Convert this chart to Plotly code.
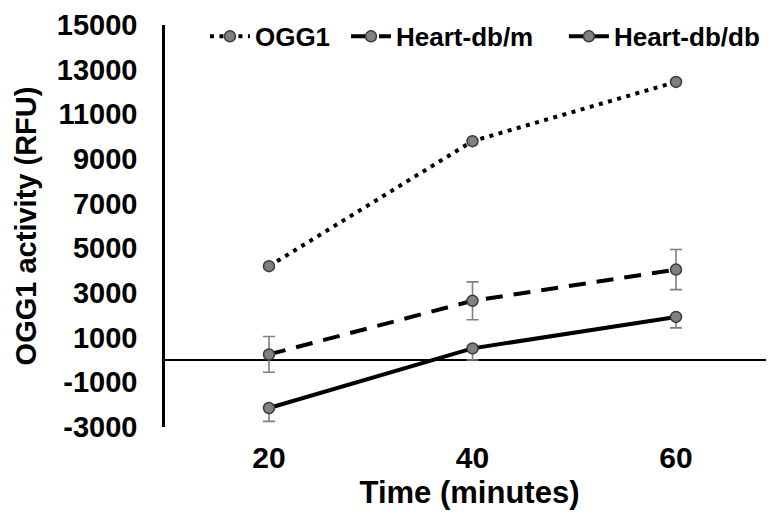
import plotly.graph_objects as go

time_min = [20, 40, 60]
ogg1 = [4200, 9800, 12450]
db_m = [250, 2650, 4050]
db_m_err = [800, 850, 900]
db_db = [-2150, 520, 1930]
db_db_err_minus = [600, 520, 490]
y_ticks = [-3000, -1000, 1000, 3000, 5000, 7000, 9000, 11000, 13000, 15000]

marker = dict(size=11, color="#808080", line=dict(color="#3a3a3a", width=1.5))
err_style = dict(color="#7f7f7f", thickness=1.6, width=6)
font_b = dict(family="Arial", color="black", weight="bold")

fig = go.Figure()
fig.add_trace(go.Scatter(
    x=time_min, y=ogg1, name="OGG1", mode="lines+markers", legend="legend",
    line=dict(color="black", width=4, dash="4px,5.5px"), marker=marker))
fig.add_trace(go.Scatter(
    x=time_min, y=db_m, name="Heart-db/m", mode="lines+markers", legend="legend2",
    line=dict(color="black", width=4, dash="17px,11px"), marker=marker,
    error_y=dict(type="data", array=db_m_err, visible=True, **err_style)))
fig.add_trace(go.Scatter(
    x=time_min, y=db_db, name="Heart-db/db", mode="lines+markers", legend="legend3",
    line=dict(color="black", width=4), marker=marker,
    error_y=dict(type="data", symmetric=False, array=[0, 0, 0],
                 arrayminus=db_db_err_minus, visible=True, **err_style)))

def leg(x):
    return dict(orientation="h", x=x, y=1.03, xanchor="left", yanchor="top",
                font=dict(size=26, **font_b), bgcolor="rgba(0,0,0,0)", itemwidth=40)

fig.update_layout(
    width=766, height=508,
    margin=dict(l=157, r=0, t=17, b=89),
    paper_bgcolor="white", plot_bgcolor="white",
    showlegend=True,
    legend=leg(0.0656), legend2=leg(0.2972), legend3=leg(0.655),
    xaxis=dict(range=[9.78, 69.63], tickvals=time_min, ticktext=[str(t) for t in time_min],
               automargin=False,
               showline=False, showgrid=False, zeroline=False, ticks="",
               ticklabelstandoff=10,
               tickfont=dict(size=30, **font_b),
               title=dict(text="Time (minutes)", font=dict(size=31, **font_b), standoff=8)),
    yaxis=dict(range=[-3000, 15000], tickvals=y_ticks, ticktext=[str(v) for v in y_ticks],
               automargin=False,
               showline=True, linecolor="black", linewidth=2.5,
               showgrid=False, zeroline=True, zerolinecolor="black", zerolinewidth=2,
               ticks="", ticklabelstandoff=19,
               tickfont=dict(size=29, **font_b),
               title=dict(text="OGG1 activity (RFU)", font=dict(size=29, **font_b), standoff=12)),
)

fig.write_html("out.html")
